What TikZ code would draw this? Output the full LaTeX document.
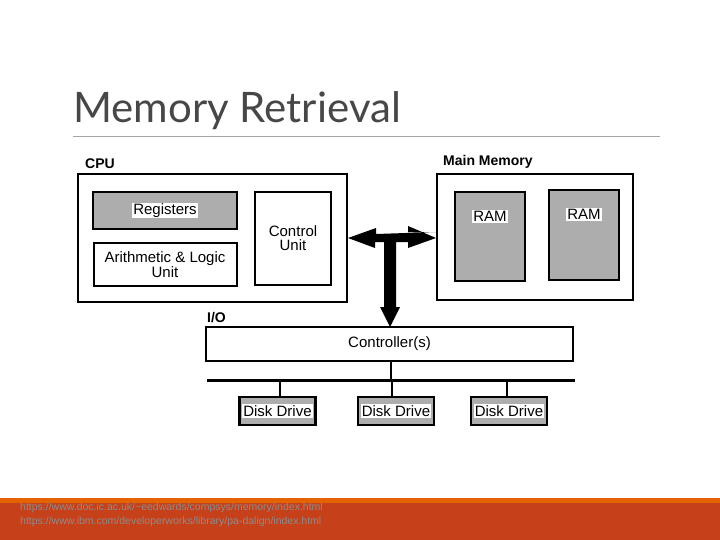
\documentclass[tikz,border=0pt]{standalone}
\usepackage{fontspec}
\setmainfont{Liberation Sans}
\newfontfamily\titlefont{Lato}
\begin{document}
\begin{tikzpicture}[x=1pt,y=-1pt,
  box/.style={draw=black,line width=2pt,inner sep=0pt,font=\fontsize{15}{15}\selectfont},
  gbox/.style={box,fill=black!32},
  wlab/.style={fill=white,inner sep=1pt,font=\fontsize{15}{15}\selectfont},
  blab/.style={anchor=south west,inner sep=0pt,font=\bfseries\fontsize{14}{14}\selectfont},
  disk/.style={gbox,line width=2.5pt,minimum width=76pt,minimum height=28pt}]
\useasboundingbox (0,0) rectangle (720,540);
% title
\node[anchor=base west,inner sep=0pt,text=black!72,font=\titlefont\fontsize{42}{42}\selectfont] (title) at (73,123) {Memory Retrieval};
\draw[black!35,line width=0.8pt] (73,136) -- (660,136);
% footer
\fill[orange!85!red!90!black] (0,498) rectangle (720,503);
\fill[red!55!orange!75!black!90] (0,503) rectangle (720,540);
\node[anchor=north west,align=left,inner sep=0pt,text=black!45,font=\fontsize{10.5}{14}\selectfont] (foot) at (20,503)
 {https://www.doc.ic.ac.uk/\textasciitilde eedwards/compsys/memory/index.html\\https://www.ibm.com/developerworks/library/pa-dalign/index.html};
% CPU
\node[box,minimum width=269pt,minimum height=128pt] (cpu) at (212.5,238) {};
\node[blab] (cpulab) at (85,169) {CPU};
\node[gbox,minimum width=144pt,minimum height=37pt] (reg) at (165,210.5) {};
\node[wlab] (regt) at (reg) {Registers};
\node[box,minimum width=143pt,minimum height=43pt,align=center,font=\fontsize{15}{13}\selectfont] (alu) at (165,264.5) {Arithmetic \& Logic\\Unit};
\node[box,minimum width=76pt,minimum height=93pt,align=center,font=\fontsize{15}{14}\selectfont] (cu) at (293,238.5) {Control\\Unit};
% Main memory
\node[box,minimum width=196pt,minimum height=126pt] (mm) at (535,237) {};
\node[blab] (mmlab) at (443,169) {Main Memory};
\node[gbox,minimum width=70pt,minimum height=89pt] (ram1) at (490,236.5) {};
\node[wlab,anchor=north] (ram1t) at (490,210) {RAM};
\node[gbox,minimum width=70pt,minimum height=90pt] (ram2) at (584,235) {};
\node[wlab,anchor=north] (ram2t) at (584,208) {RAM};
% bus arrow
\fill[black] (cpu.east |- 0,238) -- ++(28,-10) -- ++(0,6) -- (mm.west |- 0,232) -- ++(-28,0) -- ++(0,-6) -- (mm.west |- 0,238)
  -- ++(-28,10) -- ++(0,-6) -- (396,242) -- (396,307) -- (400,307) -- (390,327) -- (380,307) -- (384,307) -- (384,242)
  -- (375,242) -- ++(0,6) -- cycle;
% I/O
\node[blab] (io) at (207,323) {I/O};
\node[box,minimum width=367pt,minimum height=34pt] (ctrl) at (389.5,344) {Controller(s)};
\coordinate (busL) at (207,380.5);
\coordinate (busR) at (575,380.5);
\draw[line width=3pt] (busL) -- (busR);
\node[disk] (d1) at (277.5,411) {};
\node[wlab] at (d1) {Disk Drive};
\node[disk] (d2) at (396,411) {};
\node[wlab] at (d2) {Disk Drive};
\node[disk] (d3) at (509,411) {};
\node[wlab] at (d3) {Disk Drive};
\draw[line width=2pt] (ctrl.south -| 391,0) -- (391,380.5);
\draw[line width=2pt] (d1.north -| 279.5,0) -- (279.5,380.5);
\draw[line width=2pt] (d2.north -| 392,0) -- (392,380.5);
\draw[line width=2pt] (d3.north -| 506.5,0) -- (506.5,380.5);
\end{tikzpicture}
\end{document}
